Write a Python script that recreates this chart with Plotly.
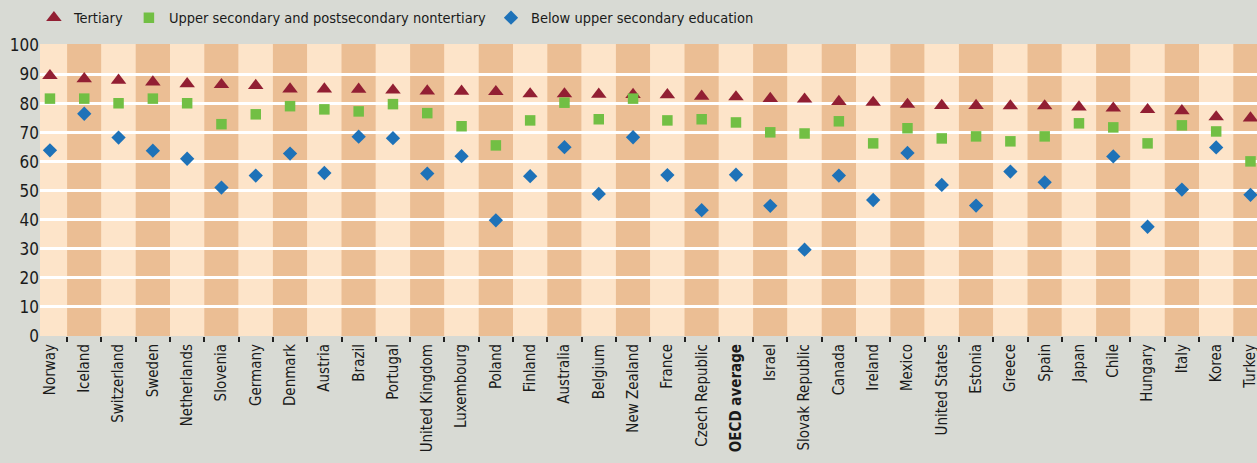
import plotly.graph_objects as go

countries = ["Norway", "Iceland", "Switzerland", "Sweden", "Netherlands", "Slovenia", "Germany",
             "Denmark", "Austria", "Brazil", "Portugal", "United Kingdom", "Luxembourg", "Poland",
             "Finland", "Australia", "Belgium", "New Zealand", "France", "Czech Republic",
             "OECD average", "Israel", "Slovak Republic", "Canada", "Ireland", "Mexico",
             "United States", "Estonia", "Greece", "Spain", "Japan", "Chile", "Hungary", "Italy",
             "Korea", "Turkey"]

tertiary = [89.6, 88.5, 88.0, 87.4, 86.8, 86.5, 86.2, 85.0, 85.0, 84.9, 84.6, 84.3, 84.2, 84.1,
            83.3, 83.3, 83.2, 83.1, 83.0, 82.5, 82.3, 81.7, 81.5, 80.7, 80.4, 79.7, 79.3, 79.3,
            79.2, 79.2, 78.8, 78.4, 77.9, 77.5, 75.4, 75.0]

upper_secondary = [81.7, 81.7, 80.1, 81.7, 80.1, 72.9, 76.3, 79.1, 78.0, 77.3, 79.8, 76.7, 72.2,
                   65.6, 74.2, 80.3, 74.6, 81.7, 74.2, 74.6, 73.5, 70.1, 69.7, 73.9, 66.3, 71.5,
                   68.0, 68.7, 67.0, 68.7, 73.2, 71.8, 66.3, 72.5, 70.4, 60.1]

below_upper = [63.9, 76.5, 68.3, 63.8, 61.0, 51.1, 55.2, 62.8, 56.1, 68.6, 68.1, 55.9, 61.9,
               39.8, 55.0, 65.0, 48.9, 68.4, 55.4, 43.3, 55.5, 44.8, 29.7, 55.2, 46.8, 63.0,
               52.0, 44.9, 56.6, 52.9, None, 61.8, 37.6, 50.4, 64.9, 48.6]

y_ticks = list(range(0, 101, 10))
tick_text = ["<b>%s</b>" % c if c == "OECD average" else c for c in countries]

FONT = "Liberation Sans Narrow, DejaVu Sans Condensed, Arial Narrow, sans-serif"
LIGHT = "#FDE4C9"
DARK = "#EBBE94"
PAGE_BG = "#D8DAD4"

fig = go.Figure()
fig.add_trace(go.Scatter(x=countries, y=tertiary, mode="markers", name="Tertiary",
                         marker=dict(symbol="triangle-up", size=13.5, color="#921F33")))
fig.add_trace(go.Scatter(x=countries, y=upper_secondary, mode="markers",
                         name="Upper secondary and postsecondary nontertiary",
                         marker=dict(symbol="square", size=10.5, color="#72BF44")))
fig.add_trace(go.Scatter(x=countries, y=below_upper, mode="markers",
                         name="Below upper secondary education",
                         marker=dict(symbol="diamond", size=11, color="#1E72B8")))

shapes = []
for i, c in enumerate(countries):
    shapes.append(dict(type="rect", xref="x", yref="paper", x0=i - 0.5, x1=i + 0.5, y0=0, y1=1,
                       fillcolor=LIGHT if i % 2 == 0 else DARK, line=dict(width=0), layer="below"))

fig.update_layout(
    width=1257, height=463,
    margin=dict(l=40, r=0, t=44, b=127, autoexpand=False),
    paper_bgcolor=PAGE_BG,
    plot_bgcolor=LIGHT,
    font=dict(family=FONT, color="#1a1a1a"),
    shapes=shapes,
    showlegend=True,
    legend=dict(orientation="h", x=-0.005, xanchor="left", y=1.09, yanchor="middle",
                font=dict(size=14.5, family=FONT, color="#1a1a1a"),
                bgcolor="rgba(0,0,0,0)", itemwidth=30, tracegroupgap=0),
    xaxis=dict(type="category", range=[-0.29, 35.19], tickmode="array", tickvals=countries,
               ticktext=tick_text, tickangle=-90, tickson="boundaries", ticks="outside",
               ticklen=5, tickwidth=1.5, tickcolor="#222", showgrid=False, showline=False,
               zeroline=False, automargin=False, ticklabelstandoff=4,
               tickfont=dict(size=15, family=FONT, color="#1a1a1a")),
    yaxis=dict(range=[0, 100.5], tickmode="array", tickvals=y_ticks, showgrid=False,
               zeroline=False, showline=False, ticks="", ticklen=0, automargin=False,
               tickfont=dict(size=17, family=FONT, color="#1a1a1a"),
               minor=dict(tickmode="array", tickvals=y_ticks[1:-1], showgrid=True,
                          gridcolor="white", gridwidth=2.5, ticks="")),
)

fig.write_html("out.html",
               config={"displayModeBar": False},
               post_script="document.body.style.margin='0';"
                           "document.body.style.overflow='hidden';"
                           "document.body.style.background='" + PAGE_BG + "';")
